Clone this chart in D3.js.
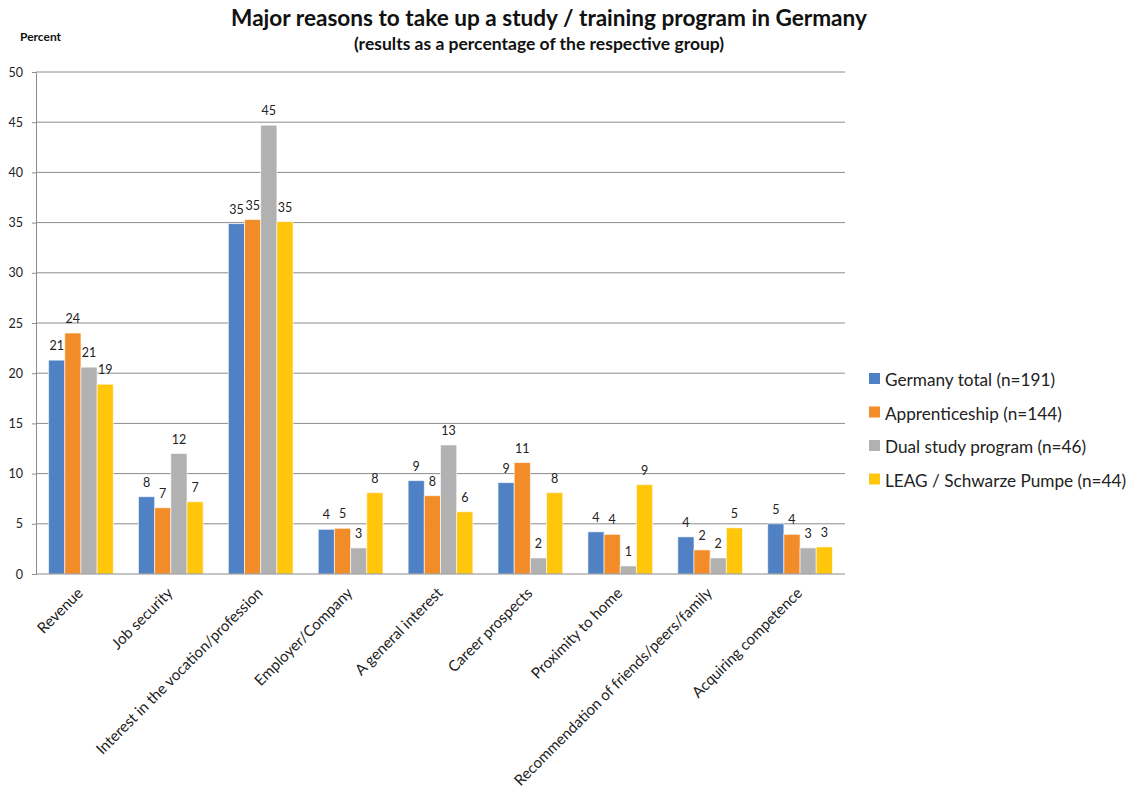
<!DOCTYPE html>
<html>
<head>
<meta charset="utf-8">
<script src="https://cdn.jsdelivr.net/npm/d3@7"></script>
<style>
  html, body { margin: 0; padding: 0; background: #fff; }
  svg { display: block; font-family: Lato, "Open Sans", sans-serif; }
</style>
</head>
<body>
<svg id="chart" width="1135" height="792"></svg>
<script>
// Reasons for choosing a study / training program, percent of each group
const categories = [
  "Revenue", "Job security", "Interest in the vocation/profession",
  "Employer/Company", "A general interest", "Career prospects",
  "Proximity to home", "Recommendation of friends/peers/family",
  "Acquiring competence"
];
const seriesNames = [
  "Germany total (n=191)", "Apprenticeship (n=144)",
  "Dual study program (n=46)", "LEAG / Schwarze Pumpe (n=44)"
];
const germanyTotal   = [21.3, 7.7, 34.9, 4.45, 9.3, 9.1, 4.2, 3.7, 5.0];
const apprenticeship = [24.0, 6.6, 35.3, 4.55, 7.8, 11.1, 3.95, 2.4, 3.95];
const dualStudy      = [20.6, 12.0, 44.7, 2.6, 12.85, 1.6, 0.8, 1.6, 2.6];
const leag           = [18.9, 7.2, 35.1, 8.1, 6.2, 8.1, 8.9, 4.6, 2.7];
const yTicks = [0, 5, 10, 15, 20, 25, 30, 35, 40, 45, 50];
const colors = ["#4F81C4", "#F28C28", "#B1B1B1", "#FFC60B"];

const seriesValues = [germanyTotal, apprenticeship, dualStudy, leag];

const svg = d3.select("#chart");
const plot = { left: 36, right: 845, top: 72, bottom: 574 };

const x0 = d3.scaleBand()
  .domain(categories)
  .range([plot.left, plot.right])
  .paddingInner(0.28)
  .paddingOuter(0.14);
const x1 = d3.scaleBand()
  .domain(d3.range(seriesNames.length))
  .range([0, x0.bandwidth()]);
const y = d3.scaleLinear().domain([0, 50]).range([plot.bottom, plot.top]);

// Horizontal gridlines
svg.append("g")
  .selectAll("line")
  .data(yTicks.filter(t => t > 0))
  .join("line")
  .attr("x1", plot.left).attr("x2", plot.right)
  .attr("y1", d => y(d)).attr("y2", d => y(d))
  .attr("stroke", "#8c8c8c").attr("stroke-width", 1);

// Y axis
const yAxis = svg.append("g")
  .attr("transform", `translate(${plot.left},0)`)
  .call(d3.axisLeft(y).tickValues(yTicks).tickSize(4).tickPadding(9));
yAxis.select(".domain").attr("stroke", "#8c8c8c");
yAxis.selectAll(".tick line").attr("stroke", "#8c8c8c");
yAxis.selectAll("text")
  .attr("font-family", "Lato, sans-serif")
  .attr("font-size", 12.5).attr("fill", "#222");

// Bars
const groups = svg.append("g")
  .selectAll("g")
  .data(categories)
  .join("g")
  .attr("transform", d => `translate(${x0(d)},0)`);

groups.selectAll("rect")
  .data((d, i) => seriesValues.map((vals, s) => ({ s, v: vals[i] })))
  .join("rect")
  .attr("x", d => x1(d.s))
  .attr("width", x1.bandwidth())
  .attr("y", d => y(d.v))
  .attr("height", d => y(0) - y(d.v))
  .attr("fill", d => colors[d.s])
  .attr("stroke", "rgba(255,255,255,0.6)")
  .attr("stroke-width", 1);

// Value labels
groups.selectAll("text")
  .data((d, i) => seriesValues.map((vals, s) => ({ s, v: vals[i] })))
  .join("text")
  .attr("x", d => x1(d.s) + x1.bandwidth() / 2)
  .attr("y", d => y(d.v) - 10)
  .attr("text-anchor", "middle")
  .attr("font-size", 12.5)
  .attr("fill", "#222")
  .text(d => d3.format(".0f")(d.v));

// X axis baseline
svg.append("line")
  .attr("x1", plot.left).attr("x2", plot.right)
  .attr("y1", plot.bottom).attr("y2", plot.bottom)
  .attr("stroke", "#8c8c8c");

// Rotated category labels
svg.append("g")
  .selectAll("text")
  .data(categories)
  .join("text")
  .attr("transform", d => `translate(${x0(d) + x0.bandwidth() / 2 + 3},${plot.bottom + 20}) rotate(-45)`)
  .attr("text-anchor", "end")
  .attr("font-size", 15.1)
  .attr("fill", "#222")
  .text(d => d);

// Titles
svg.append("text")
  .attr("x", 549).attr("y", 26)
  .attr("text-anchor", "middle")
  .attr("font-size", 22.6).attr("font-weight", "bold")
  .attr("fill", "#111")
  .text("Major reasons to take up a study / training program in Germany");
svg.append("text")
  .attr("x", 539).attr("y", 50)
  .attr("text-anchor", "middle")
  .attr("font-size", 17.5).attr("font-weight", "bold")
  .attr("fill", "#111")
  .text("(results as a percentage of the respective group)");
svg.append("text")
  .attr("x", 20).attr("y", 41)
  .attr("font-size", 12).attr("font-weight", "bold")
  .attr("fill", "#111")
  .text("Percent");

// Legend
const legend = svg.append("g")
  .selectAll("g")
  .data(seriesNames)
  .join("g")
  .attr("transform", (d, i) => `translate(869,${380 + i * 33.5})`);
legend.append("rect")
  .attr("x", 0).attr("y", -7)
  .attr("width", 11).attr("height", 11)
  .attr("fill", (d, i) => colors[i]);
legend.append("text")
  .attr("x", 16).attr("y", 6)
  .attr("font-size", 17.2)
  .attr("fill", "#222")
  .text(d => d);
</script>
</body>
</html>
